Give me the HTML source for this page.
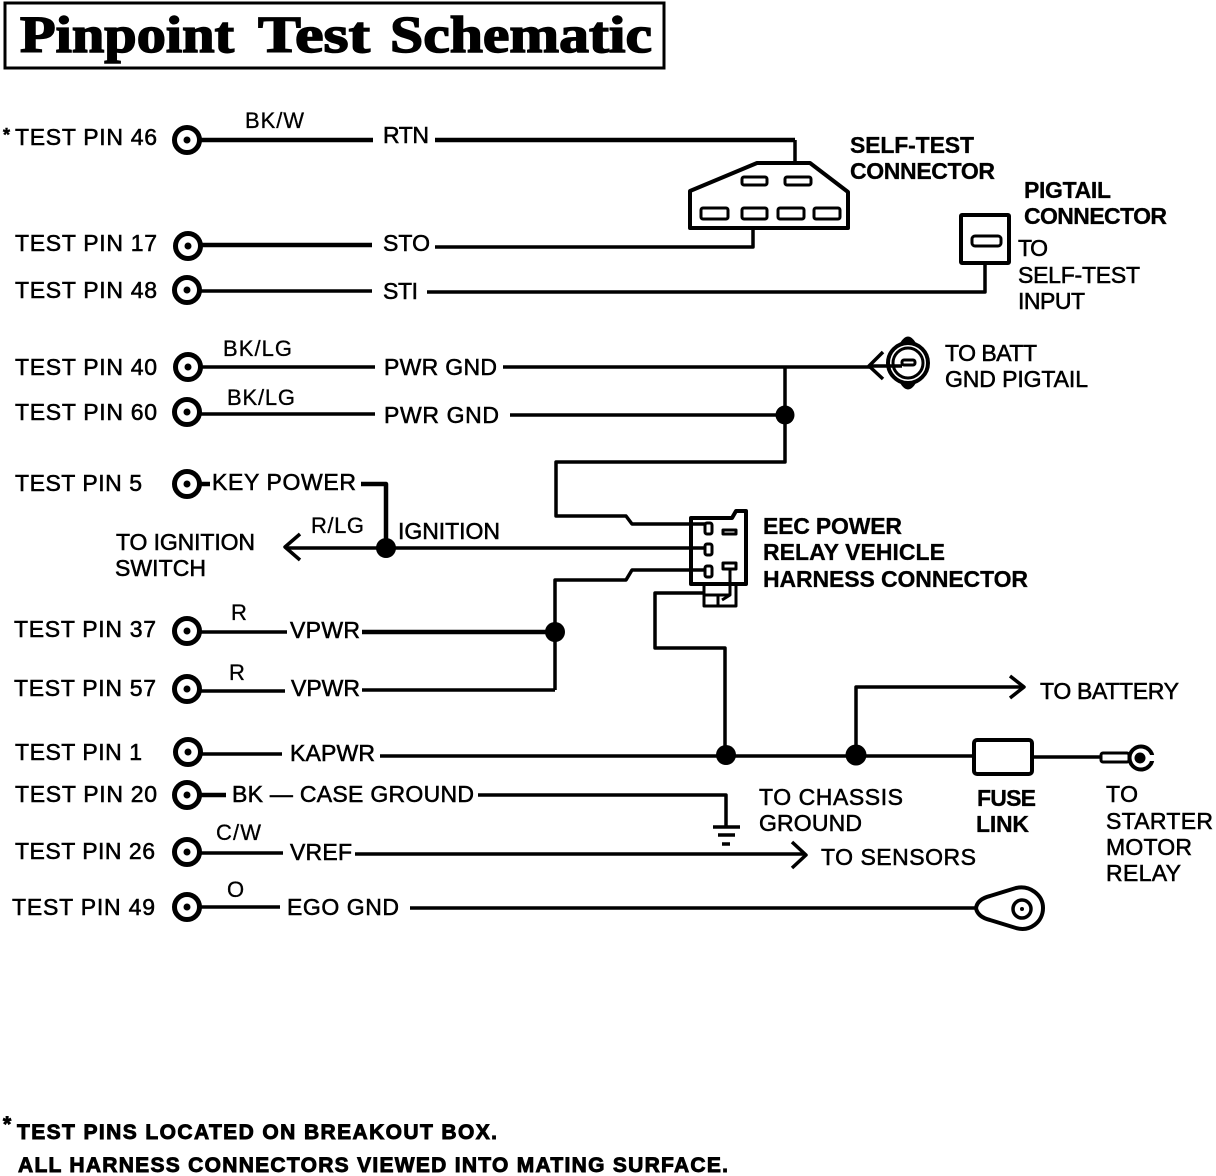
<!DOCTYPE html>
<html>
<head>
<meta charset="utf-8">
<style>
html,body{margin:0;padding:0;background:#fff;}
svg{display:block;}
text{font-family:"Liberation Sans",sans-serif;font-size:23px;fill:#000;stroke:#000;stroke-width:.55px;}
.b{font-weight:bold;font-size:23px;stroke-width:.3px;}
.f{font-weight:bold;font-size:21px;stroke-width:.9px;}
.s{font-size:22px;stroke-width:.3px;}
.t{font-family:"Liberation Serif",serif;font-weight:bold;font-size:52px;stroke-width:1.5px;}
.w{fill:none;stroke:#000;stroke-width:3.5;stroke-linejoin:round;stroke-linecap:butt;}
.h{stroke-width:4.5;}
.n{fill:none;stroke:#000;stroke-width:3;stroke-linejoin:round;}
.p{fill:#fff;stroke:#000;stroke-width:5;}
.d{fill:#000;stroke:none;}
</style>
</head>
<body>
<svg width="1216" height="1176" viewBox="0 0 1216 1176" xmlns="http://www.w3.org/2000/svg">
<rect width="1216" height="1176" fill="#fff"/>

<!-- Title -->
<rect x="5" y="3" width="659" height="65" fill="none" stroke="#000" stroke-width="3"/>
<text class="t" x="20" y="52" textLength="214" lengthAdjust="spacingAndGlyphs">Pinpoint</text>
<text class="t" x="258" y="52" textLength="112" lengthAdjust="spacingAndGlyphs">Test</text>
<text class="t" x="390" y="52" textLength="262" lengthAdjust="spacingAndGlyphs">Schematic</text>

<!-- Wires -->
<path class="w h" d="M200 140H373M435 140H795"/>
<path class="w" d="M795 140V163"/>
<path class="w h" d="M200 245H372"/>
<path class="w" d="M435 247H753V228"/>
<path class="w" d="M200 291H372M427 292H985V263"/>
<path class="w" d="M200 367H375M503 367H870"/>
<path class="w" d="M200 414H375M510 415H785"/>
<path class="w" d="M785 367V462H556V516H626L632 524H706"/>
<path class="w h" d="M200 484H210M361 484H386V548"/>
<path class="w" d="M286 548H706"/>
<path class="w" d="M555 690V580H626L632 570H706"/>
<path class="w" d="M200 632H287"/>
<path class="w h" d="M362 632H555"/>
<path class="w" d="M200 691H285M362 690H555"/>
<path class="w" d="M705 593H655V648H725V756"/>
<path class="w" d="M200 754H282M380 756H975"/>
<path class="w" d="M856 756V687H1022"/>
<path class="w" d="M1032 757H1100"/>
<path class="w h" d="M200 795H226"/>
<path class="w" d="M478 795H726V828"/>
<path class="w" d="M200 853H283M355 854H805"/>
<path class="w" d="M200 907H280M410 908H976"/>

<!-- Arrowheads -->
<path class="w" d="M300 534L285 547L300 560"/>
<path class="w" d="M1010 676L1024 687L1010 698"/>
<path class="w" d="M792 842L806 855L792 868"/>

<!-- Junction dots -->
<circle class="d" cx="785" cy="415" r="9.5"/>
<circle class="d" cx="386" cy="548" r="10"/>
<circle class="d" cx="555" cy="632" r="10"/>
<circle class="d" cx="726" cy="755" r="10"/>
<circle class="d" cx="856" cy="755" r="10.5"/>

<!-- Test pins -->
<g>
<circle class="p" cx="187" cy="140" r="12.5"/><circle class="d" cx="187" cy="140" r="3.5"/>
<circle class="p" cx="188" cy="246" r="12.5"/><circle class="d" cx="188" cy="246" r="3.5"/>
<circle class="p" cx="187" cy="290" r="12.5"/><circle class="d" cx="187" cy="290" r="3.5"/>
<circle class="p" cx="188" cy="367" r="12.5"/><circle class="d" cx="188" cy="367" r="3.5"/>
<circle class="p" cx="187" cy="412" r="12.5"/><circle class="d" cx="187" cy="412" r="3.5"/>
<circle class="p" cx="187" cy="484" r="12.5"/><circle class="d" cx="187" cy="484" r="3.5"/>
<circle class="p" cx="187" cy="631" r="12.5"/><circle class="d" cx="187" cy="631" r="3.5"/>
<circle class="p" cx="187" cy="689" r="12.5"/><circle class="d" cx="187" cy="689" r="3.5"/>
<circle class="p" cx="188" cy="752" r="12.5"/><circle class="d" cx="188" cy="752" r="3.5"/>
<circle class="p" cx="187" cy="795" r="12.5"/><circle class="d" cx="187" cy="795" r="3.5"/>
<circle class="p" cx="187" cy="852" r="12.5"/><circle class="d" cx="187" cy="852" r="3.5"/>
<circle class="p" cx="187" cy="907" r="12.5"/><circle class="d" cx="187" cy="907" r="3.5"/>
</g>

<!-- Self-test connector -->
<path fill="#fff" stroke="#000" stroke-width="4" stroke-linejoin="round" d="M690 191L757 163H810L848 192V228H690Z"/>
<rect class="n" x="742" y="177" width="25" height="8" rx="2"/>
<rect class="n" x="785" y="177" width="26" height="8" rx="2"/>
<rect class="n" x="701" y="208" width="27" height="11" rx="2"/>
<rect class="n" x="742" y="208" width="25" height="11" rx="2"/>
<rect class="n" x="778" y="208" width="26" height="11" rx="2"/>
<rect class="n" x="814" y="208" width="26" height="11" rx="2"/>

<!-- Pigtail connector -->
<rect x="961" y="215" width="48" height="48" fill="#fff" stroke="#000" stroke-width="4" rx="1"/>
<rect class="n" x="972" y="236" width="29" height="10" rx="3"/>

<!-- Batt ground pigtail -->
<path class="w" d="M883 352L869 366L883 379"/>
<circle cx="908" cy="363" r="20" fill="#fff" stroke="#000" stroke-width="4"/>
<circle cx="908" cy="363" r="15" fill="none" stroke="#000" stroke-width="3"/>
<rect class="n" x="902" y="360" width="13" height="5" rx="2"/>
<path class="d" d="M900 343Q908 330 916 343ZM900 383Q908 396 916 383Z"/>
<path class="w" d="M870 366H902"/>

<!-- EEC connector -->
<path fill="#fff" stroke="#000" stroke-width="4" stroke-linejoin="round" d="M691 518H732L736 511H746V584H691Z"/>
<path class="w" d="M690 524H706M690 548H706M690 570H706"/>
<rect class="n" x="705" y="523" width="7" height="11" rx="2" fill="#fff"/>
<rect class="n" x="705" y="544" width="7" height="11" rx="2" fill="#fff"/>
<rect class="n" x="705" y="566" width="7" height="11" rx="2" fill="#fff"/>
<rect class="n" x="723" y="530" width="13" height="4"/>
<rect class="n" x="723" y="563" width="13" height="6"/>
<path class="n" d="M704 584V606H736V584M730 569V595L722 600M704 595H730M718 596V606"/>

<!-- Fuse link -->
<rect x="974" y="740" width="58" height="34" rx="3" fill="#fff" stroke="#000" stroke-width="4"/>

<!-- Starter terminal -->
<rect x="1101" y="753" width="28" height="9" fill="#fff" stroke="#000" stroke-width="3" rx="2"/>
<circle cx="1141" cy="758" r="11.5" fill="#fff" stroke="#000" stroke-width="4"/>
<rect x="1149" y="755" width="8" height="6" fill="#fff"/>
<circle class="d" cx="1140" cy="758" r="5.5"/>

<!-- Ground -->
<path class="w" d="M713 827H740M718 835H735M722 844H730"/>

<!-- EGO lug -->
<path fill="#fff" stroke="#000" stroke-width="4" stroke-linejoin="round" d="M976 908C977 902 982 898 990 896L1016 888C1030 885 1043 895 1043 908C1043 922 1030 932 1016 928L990 920C982 918 977 914 976 908Z"/>
<circle cx="1022" cy="909" r="9" fill="none" stroke="#000" stroke-width="3.5"/>
<circle class="d" cx="1022" cy="909" r="2"/>

<!-- Pin labels -->
<text x="3" y="141" style="font-size:18px;font-weight:bold">*</text>
<text x="15" y="145" textLength="142" lengthAdjust="spacing">TEST PIN 46</text>
<text x="15" y="251" textLength="142" lengthAdjust="spacing">TEST PIN 17</text>
<text x="15" y="298" textLength="142" lengthAdjust="spacing">TEST PIN 48</text>
<text x="15" y="375" textLength="142" lengthAdjust="spacing">TEST PIN 40</text>
<text x="15" y="420" textLength="142" lengthAdjust="spacing">TEST PIN 60</text>
<text x="15" y="491" textLength="127" lengthAdjust="spacing">TEST PIN 5</text>
<text x="14" y="637" textLength="142" lengthAdjust="spacing">TEST PIN 37</text>
<text x="14" y="696" textLength="142" lengthAdjust="spacing">TEST PIN 57</text>
<text x="15" y="760" textLength="127" lengthAdjust="spacing">TEST PIN 1</text>
<text x="15" y="802" textLength="142" lengthAdjust="spacing">TEST PIN 20</text>
<text x="15" y="859" textLength="140" lengthAdjust="spacing">TEST PIN 26</text>
<text x="12" y="915" textLength="143" lengthAdjust="spacing">TEST PIN 49</text>

<!-- Wire labels -->
<text class="s" x="245" y="128" textLength="59" lengthAdjust="spacing">BK/W</text>
<text x="383" y="143" textLength="46" lengthAdjust="spacing">RTN</text>
<text x="383" y="251" textLength="47" lengthAdjust="spacing">STO</text>
<text x="383" y="299" textLength="35" lengthAdjust="spacing">STI</text>
<text class="s" x="223" y="356" textLength="69" lengthAdjust="spacing">BK/LG</text>
<text x="384" y="375" textLength="113" lengthAdjust="spacing">PWR GND</text>
<text class="s" x="227" y="405" textLength="68" lengthAdjust="spacing">BK/LG</text>
<text x="384" y="423" textLength="115" lengthAdjust="spacing">PWR GND</text>
<text x="212" y="490" textLength="144" lengthAdjust="spacing">KEY POWER</text>
<text class="s" x="311" y="533" textLength="53" lengthAdjust="spacing">R/LG</text>
<text x="398" y="539" textLength="102" lengthAdjust="spacing">IGNITION</text>
<text x="116" y="550" textLength="139" lengthAdjust="spacing">TO IGNITION</text>
<text x="115" y="576" textLength="91" lengthAdjust="spacing">SWITCH</text>
<text class="s" x="231" y="620" textLength="15" lengthAdjust="spacing">R</text>
<text x="290" y="638" textLength="70" lengthAdjust="spacing">VPWR</text>
<text class="s" x="229" y="680" textLength="15" lengthAdjust="spacing">R</text>
<text x="291" y="696" textLength="69" lengthAdjust="spacing">VPWR</text>
<text x="290" y="761" textLength="85" lengthAdjust="spacing">KAPWR</text>
<text x="232" y="802" textLength="242" lengthAdjust="spacing">BK — CASE GROUND</text>
<text class="s" x="216" y="840" textLength="45" lengthAdjust="spacing">C/W</text>
<text x="290" y="860" textLength="62" lengthAdjust="spacing">VREF</text>
<text class="s" x="227" y="897" textLength="16" lengthAdjust="spacing">O</text>
<text x="287" y="915" textLength="112" lengthAdjust="spacing">EGO GND</text>

<!-- Component labels -->
<text class="b" x="850" y="153" textLength="124" lengthAdjust="spacing">SELF-TEST</text>
<text class="b" x="850" y="179" textLength="145" lengthAdjust="spacing">CONNECTOR</text>
<text class="b" x="1024" y="198" textLength="87" lengthAdjust="spacing">PIGTAIL</text>
<text class="b" x="1024" y="224" textLength="143" lengthAdjust="spacing">CONNECTOR</text>
<text x="1018" y="256" textLength="30" lengthAdjust="spacing">TO</text>
<text x="1018" y="283" textLength="122" lengthAdjust="spacing">SELF-TEST</text>
<text x="1018" y="309" textLength="67" lengthAdjust="spacing">INPUT</text>
<text x="945" y="361" textLength="92" lengthAdjust="spacing">TO BATT</text>
<text x="945" y="387" textLength="143" lengthAdjust="spacing">GND PIGTAIL</text>
<text class="b" x="763" y="534" textLength="139" lengthAdjust="spacing">EEC POWER</text>
<text class="b" x="763" y="560" textLength="182" lengthAdjust="spacing">RELAY VEHICLE</text>
<text class="b" x="763" y="587" textLength="265" lengthAdjust="spacing">HARNESS CONNECTOR</text>
<text x="1040" y="699" textLength="139" lengthAdjust="spacing">TO BATTERY</text>
<text x="759" y="805" textLength="144" lengthAdjust="spacing">TO CHASSIS</text>
<text x="759" y="831" textLength="103" lengthAdjust="spacing">GROUND</text>
<text x="821" y="865" textLength="155" lengthAdjust="spacing">TO SENSORS</text>
<text class="b" x="977" y="806" textLength="59" lengthAdjust="spacing">FUSE</text>
<text class="b" x="976" y="832" textLength="53" lengthAdjust="spacing">LINK</text>
<text x="1106" y="802" textLength="32" lengthAdjust="spacing">TO</text>
<text x="1106" y="829" textLength="107" lengthAdjust="spacing">STARTER</text>
<text x="1106" y="855" textLength="86" lengthAdjust="spacing">MOTOR</text>
<text x="1106" y="881" textLength="75" lengthAdjust="spacing">RELAY</text>

<!-- Footer -->
<text class="f" x="3" y="1131" style="font-size:21px">*</text>
<text class="f" x="17" y="1139" textLength="480" lengthAdjust="spacing">TEST PINS LOCATED ON BREAKOUT BOX.</text>
<text class="f" x="18" y="1172" textLength="710" lengthAdjust="spacing">ALL HARNESS CONNECTORS VIEWED INTO MATING SURFACE.</text>
</svg>
</body>
</html>
